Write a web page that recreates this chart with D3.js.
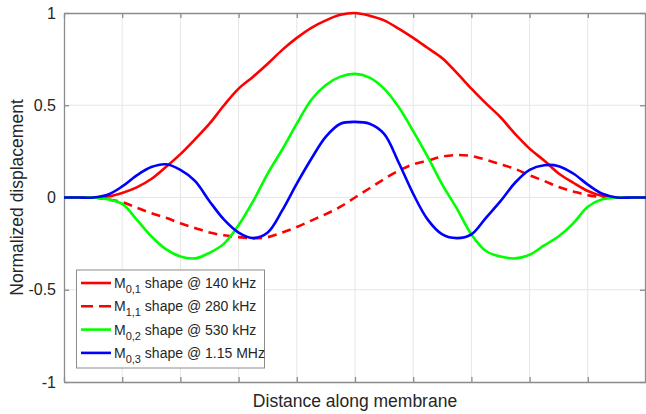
<!DOCTYPE html>
<html>
<head>
<meta charset="utf-8">
<script src="https://cdn.jsdelivr.net/npm/d3@7"></script>
<style>
body { margin: 0; background: #fff; }
text { font-family: "Liberation Sans", Arial, sans-serif; }
</style>
</head>
<body>
<script>
var w = 646, h = 414;
var m = {left: 64, top: 13, right: 0, bottom: 32};

// distance along membrane, 0..10 in steps of 0.25
var xs = d3.range(0, 10.001, 0.25);

var m01 = [0, 0, 0, 0.005, 0.025, 0.055, 0.10, 0.165, 0.235, 0.315, 0.40, 0.50, 0.59, 0.655, 0.725, 0.80, 0.865, 0.92, 0.96, 0.99,
  1.0, 0.985, 0.96, 0.915, 0.865, 0.81, 0.755, 0.675, 0.59, 0.51, 0.435, 0.345, 0.265, 0.20, 0.13, 0.08, 0.035, 0.008, 0, 0, 0];
var m11 = [0, 0, 0, -0.01, -0.025, -0.055, -0.085, -0.11, -0.14, -0.165, -0.19, -0.205, -0.215, -0.22, -0.215, -0.19, -0.16, -0.125, -0.09, -0.05,
  0.0, 0.05, 0.10, 0.145, 0.18, 0.20, 0.222, 0.23, 0.225, 0.205, 0.18, 0.155, 0.12, 0.09, 0.057, 0.033, 0.012, 0.003, 0, 0, 0];
var m02 = [0, 0, 0, -0.01, -0.035, -0.12, -0.21, -0.28, -0.32, -0.33, -0.30, -0.25, -0.15, -0.02, 0.13, 0.26, 0.40, 0.53, 0.61, 0.655,
  0.67, 0.65, 0.59, 0.49, 0.36, 0.22, 0.07, -0.06, -0.20, -0.29, -0.32, -0.33, -0.31, -0.26, -0.21, -0.14, -0.05, -0.01, 0, 0, 0];
var m03 = [0, 0, 0, 0.015, 0.06, 0.12, 0.165, 0.18, 0.15, 0.09, -0.02, -0.12, -0.19, -0.22, -0.19, -0.07, 0.075, 0.21, 0.33, 0.40,
  0.41, 0.40, 0.345, 0.19, 0.02, -0.12, -0.20, -0.22, -0.20, -0.11, -0.02, 0.08, 0.15, 0.175, 0.17, 0.13, 0.07, 0.02, 0, 0, 0];

var series = [
  {name: "M", sub: "0,1", rest: " shape @ 140 kHz", color: "#ff0000", dash: null, values: m01},
  {name: "M", sub: "1,1", rest: " shape @ 280 kHz", color: "#ff0000", dash: "9,6", values: m11},
  {name: "M", sub: "0,2", rest: " shape @ 530 kHz", color: "#00ff00", dash: null, values: m02},
  {name: "M", sub: "0,3", rest: " shape @ 1.15 MHz", color: "#0000ff", dash: null, values: m03}
];
var yTicks = [-1, -0.5, 0, 0.5, 1];
var xTicks = d3.range(0, 11);

var svg = d3.select("body").append("svg").attr("width", w).attr("height", h);

var x = d3.scaleLinear().domain([0, 10]).range([m.left, w - m.right]);
var y = d3.scaleLinear().domain([-1, 1]).range([h - m.bottom, m.top]);

// grid
svg.append("g").selectAll("line").data(xTicks.slice(1, -1)).enter().append("line")
  .attr("x1", d => x(d)).attr("x2", d => x(d)).attr("y1", y(-1)).attr("y2", y(1))
  .attr("stroke", "#e6e6e6").attr("stroke-width", 1);
svg.append("g").selectAll("line").data(yTicks.slice(1, -1)).enter().append("line")
  .attr("x1", x(0)).attr("x2", x(10)).attr("y1", d => y(d)).attr("y2", d => y(d))
  .attr("stroke", "#e6e6e6").attr("stroke-width", 1);

// axes
var axisColor = "#8c8c8c";
var gx = svg.append("g").attr("transform", "translate(0," + y(-1) + ")")
  .call(d3.axisBottom(x).tickValues(xTicks).tickSizeInner(-5).tickSizeOuter(0).tickFormat(""));
var gxt = svg.append("g").attr("transform", "translate(0," + y(1) + ")")
  .call(d3.axisTop(x).tickValues(xTicks).tickSizeInner(-5).tickSizeOuter(0).tickFormat(""));
var gy = svg.append("g").attr("transform", "translate(" + x(0) + ",0)")
  .call(d3.axisLeft(y).tickValues(yTicks).tickSizeInner(-5).tickSizeOuter(0).tickPadding(8).tickFormat(d3.format("")));
var gyr = svg.append("g").attr("transform", "translate(" + (x(10) - 1) + ",0)")
  .call(d3.axisRight(y).tickValues(yTicks).tickSizeInner(-5).tickSizeOuter(0).tickFormat(""));
[gx, gxt, gy, gyr].forEach(function(g) {
  g.select(".domain").attr("stroke", axisColor).attr("stroke-width", 1.3);
  g.selectAll(".tick line").attr("stroke", axisColor).attr("stroke-width", 1.3);
});
gy.selectAll(".tick text").attr("font-size", 16).attr("fill", "#262626")
  .attr("font-family", "'Liberation Sans', Arial, sans-serif")
  .text(d => d < 0 ? "-" + Math.abs(d) : d);

// curves
var line = d3.line().x((d, i) => x(xs[i])).y(d => y(d)).curve(d3.curveCatmullRom);
svg.append("g").selectAll("path").data(series).enter().append("path")
  .attr("d", d => line(d.values))
  .attr("fill", "none").attr("stroke", d => d.color).attr("stroke-width", 2.6)
  .attr("stroke-dasharray", d => d.dash);

// labels
svg.append("text").attr("x", (x(0) + x(10)) / 2).attr("y", 407).attr("text-anchor", "middle")
  .attr("font-size", 17.5).attr("fill", "#262626").text("Distance along membrane");
svg.append("text").attr("transform", "translate(23," + y(0) + ") rotate(-90)").attr("text-anchor", "middle")
  .attr("font-size", 17.5).attr("fill", "#262626").text("Normalized displacement");

// legend
var lg = svg.append("g");
lg.append("rect").attr("x", 76.5).attr("y", 270).attr("width", 188).attr("height", 98)
  .attr("fill", "#fff").attr("stroke", "#8c8c8c").attr("stroke-width", 1);
var rows = lg.selectAll("g.row").data(series).enter().append("g")
  .attr("transform", (d, i) => "translate(0," + (283 + i * 23.3) + ")");
rows.append("line").attr("x1", 81).attr("x2", 111).attr("y1", 0).attr("y2", 0)
  .attr("stroke", d => d.color).attr("stroke-width", 2.6)
  .attr("stroke-dasharray", d => d.dash ? "12,6" : null);
var t = rows.append("text").attr("x", 114).attr("y", 5).attr("font-size", 14).attr("fill", "#262626");
t.append("tspan").text(d => d.name);
t.append("tspan").attr("font-size", 11).attr("dy", 5).text(d => d.sub);
t.append("tspan").attr("dy", -5).text(d => d.rest);
</script>
</body>
</html>
